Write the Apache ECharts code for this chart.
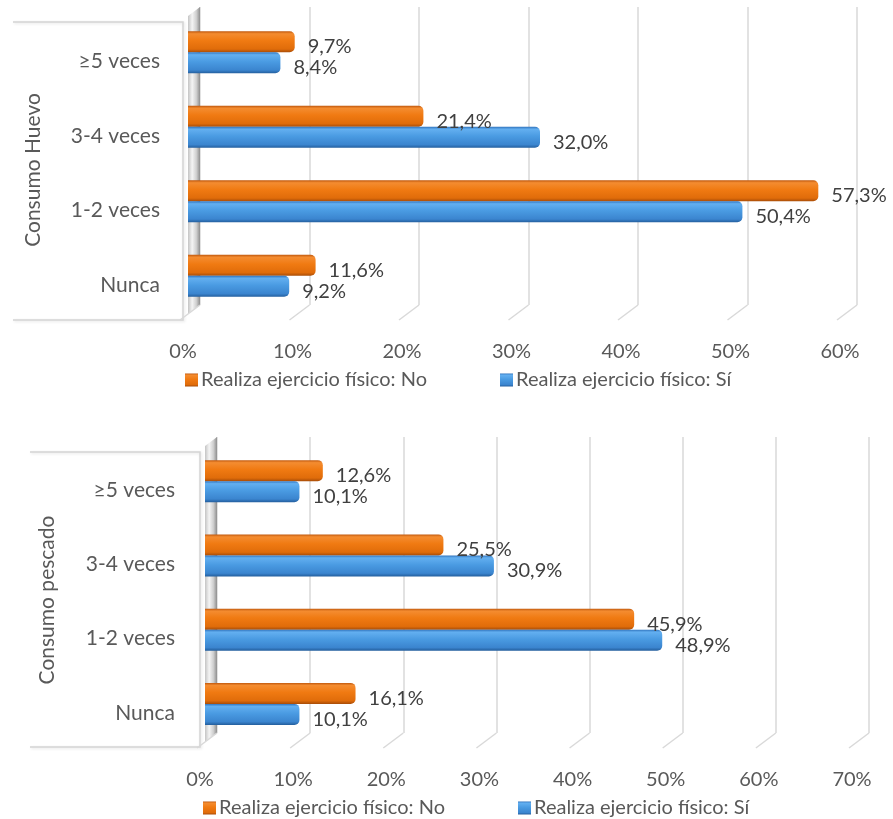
<!DOCTYPE html>
<html>
<head>
<meta charset="utf-8">
<script src="https://cdn.jsdelivr.net/npm/echarts@6/dist/echarts.min.js"></script>
<style>
  html, body { margin: 0; padding: 0; background: #ffffff; }
  #huevo { position: absolute; left: 0; top: 0; width: 893px; height: 410px; }
  #pescado { position: absolute; left: 0; top: 410px; width: 893px; height: 409px; }
</style>
</head>
<body>
<div id="huevo"></div>
<div id="pescado"></div>
<script>
// Frequency categories (bottom to top)
const categories = ['Nunca', '1-2 veces', '3-4 veces', '≥5 veces'];

// Egg consumption (%)
const huevoNo = [11.6, 57.3, 21.4, 9.7];
const huevoSi = [9.2, 50.4, 32.0, 8.4];
const huevoTicks = [0, 10, 20, 30, 40, 50, 60];

// Fish consumption (%)
const pescadoNo = [16.1, 45.9, 25.5, 12.6];
const pescadoSi = [10.1, 48.9, 30.9, 10.1];
const pescadoTicks = [0, 10, 20, 30, 40, 50, 60, 70];

const seriesNames = ['Realiza ejercicio físico: No', 'Realiza ejercicio físico: Sí'];

const FONT = 'Lato, "Open Sans", sans-serif';
const TEXT = '#595959';

const orangeFill = new echarts.graphic.LinearGradient(0, 0, 0, 1, [
  { offset: 0, color: '#bf570c' },
  { offset: 0.12, color: '#f48c30' },
  { offset: 0.45, color: '#f07a12' },
  { offset: 0.85, color: '#e06c0a' },
  { offset: 1, color: '#a94d08' }
]);
const blueFill = new echarts.graphic.LinearGradient(0, 0, 0, 1, [
  { offset: 0, color: '#2f73bd' },
  { offset: 0.12, color: '#63aff0' },
  { offset: 0.45, color: '#4a9be2' },
  { offset: 0.85, color: '#3b85cf' },
  { offset: 1, color: '#245f9e' }
]);
const wallFill = new echarts.graphic.LinearGradient(0, 0, 1, 0, [
  { offset: 0, color: '#c4c4c4' },
  { offset: 0.35, color: '#f4f4f4' },
  { offset: 0.7, color: '#cfcfcf' },
  { offset: 1, color: '#8e8e8e' }
]);

function pct(v) {
  return v.toFixed(1).replace('.', ',') + '%';
}

function build(el, cfg) {
  const chart = echarts.init(el, null, { renderer: 'canvas' });
  const max = cfg.ticks[cfg.ticks.length - 1];
  const interval = cfg.ticks[1] - cfg.ticks[0];
  const box = cfg.box;

  const barLabel = {
    show: true,
    position: 'right',
    distance: 13,
    offset: [0, 5],
    formatter: p => pct(p.value),
    color: '#404040',
    fontFamily: FONT,
    fontSize: 20
  };

  const legendText = { color: TEXT, fontFamily: FONT, fontSize: 20, padding: [0, 0, 0, -2] };

  chart.setOption({
    animation: false,
    grid: [
      Object.assign({ containLabel: false }, cfg.front),
      Object.assign({ containLabel: false }, cfg.back)
    ],
    xAxis: [
      { gridIndex: 0, type: 'value', min: 0, max: max, interval: interval, show: false },
      {
        gridIndex: 1, type: 'value', min: 0, max: max, interval: interval,
        axisLine: { show: false }, axisTick: { show: false },
        splitLine: { show: true, lineStyle: { color: '#d9d9d9', width: 1.5 } },
        axisLabel: {
          formatter: '{value}%', color: TEXT, fontFamily: FONT, fontSize: 20,
          margin: 37, padding: [0, 34, 0, 0]
        }
      }
    ],
    yAxis: [
      {
        gridIndex: 0, type: 'category', data: categories,
        axisLine: { show: false }, axisTick: { show: false }, splitLine: { show: false },
        axisLabel: {
          color: TEXT, fontFamily: FONT, fontSize: 21, margin: cfg.catMargin,
          verticalAlign: 'top', lineHeight: 18
        }
      },
      { gridIndex: 1, type: 'value', min: 0, max: 1, show: false }
    ],
    legend: [
      {
        data: [seriesNames[0]], left: cfg.legendX[0], top: cfg.legendY,
        itemWidth: 13, itemHeight: 13, icon: 'rect',
        textStyle: legendText
      },
      {
        data: [seriesNames[1]], left: cfg.legendX[1], top: cfg.legendY,
        itemWidth: 13, itemHeight: 13, icon: 'rect',
        textStyle: legendText
      }
    ],
    graphic: [
      {
        type: 'polyline', silent: true,
        shape: { points: [[box.left, box.top], [box.right, box.top], [box.right, box.bottom], [box.left, box.bottom]] },
        style: { stroke: '#d4d4d4', lineWidth: 1.5, fill: null, shadowColor: 'rgba(0,0,0,0.12)', shadowBlur: 3, shadowOffsetX: 1, shadowOffsetY: 1 }
      },
      {
        type: 'text', silent: true, x: cfg.nameX, y: cfg.nameY, rotation: Math.PI / 2,
        style: { text: cfg.axisName, fill: TEXT, font: '21px ' + FONT, align: 'center', verticalAlign: 'middle' }
      }
    ],
    series: [
      {
        // side wall at 0 %
        type: 'custom', xAxisIndex: 1, yAxisIndex: 1, silent: true, z: 1,
        data: [[0]],
        renderItem: (params, api) => {
          const b = api.coord([0, 0]);
          const t = api.coord([0, 1]);
          return {
            type: 'polygon',
            shape: { points: [[t[0], t[1]], [b[0], b[1]], [b[0] - 12, b[1] + 9], [t[0] - 12, t[1] + 9]] },
            style: { fill: wallFill }
          };
        }
      },
      {
        // floor edges below each gridline
        type: 'custom', xAxisIndex: 1, yAxisIndex: 1, silent: true, z: 1,
        data: cfg.ticks.map(v => [v]),
        renderItem: (params, api) => {
          const p = api.coord([api.value(0), 0]);
          return {
            type: 'line',
            shape: { x1: p[0], y1: p[1], x2: p[0] - 20, y2: p[1] + 15 },
            style: { stroke: '#d9d9d9', lineWidth: 1.5 }
          };
        }
      },
      {
        name: seriesNames[0], type: 'bar', xAxisIndex: 0, yAxisIndex: 0,
        data: cfg.no, barWidth: 21, barGap: '0%', z: 3,
        itemStyle: { color: orangeFill, borderRadius: [0, 5, 5, 0] },
        label: barLabel
      },
      {
        name: seriesNames[1], type: 'bar', xAxisIndex: 0, yAxisIndex: 0,
        data: cfg.si, barWidth: 21, barGap: '0%', z: 3,
        itemStyle: { color: blueFill, borderRadius: [0, 5, 5, 0] },
        label: barLabel
      }
    ]
  });
  return chart;
}

build(document.getElementById('huevo'), {
  no: huevoNo, si: huevoSi, ticks: huevoTicks, axisName: 'Consumo Huevo',
  front: { left: 188, top: 15, width: 660, height: 298 },
  back: { left: 200, top: 7, width: 657, height: 298 },
  catMargin: 28, nameX: 33, nameY: 170,
  legendX: [180, 495], legendY: 365,
  box: { left: 13, right: 183, top: 22, bottom: 320 }
});

build(document.getElementById('pescado'), {
  no: pescadoNo, si: pescadoSi, ticks: pescadoTicks, axisName: 'Consumo pescado',
  front: { left: 205, top: 34, width: 654.5, height: 297 },
  back: { left: 217, top: 27, width: 652, height: 296 },
  catMargin: 30, nameX: 47, nameY: 190,
  legendX: [198, 513], legendY: 383,
  box: { left: 30, right: 200, top: 42, bottom: 337 }
});
</script>
</body>
</html>
